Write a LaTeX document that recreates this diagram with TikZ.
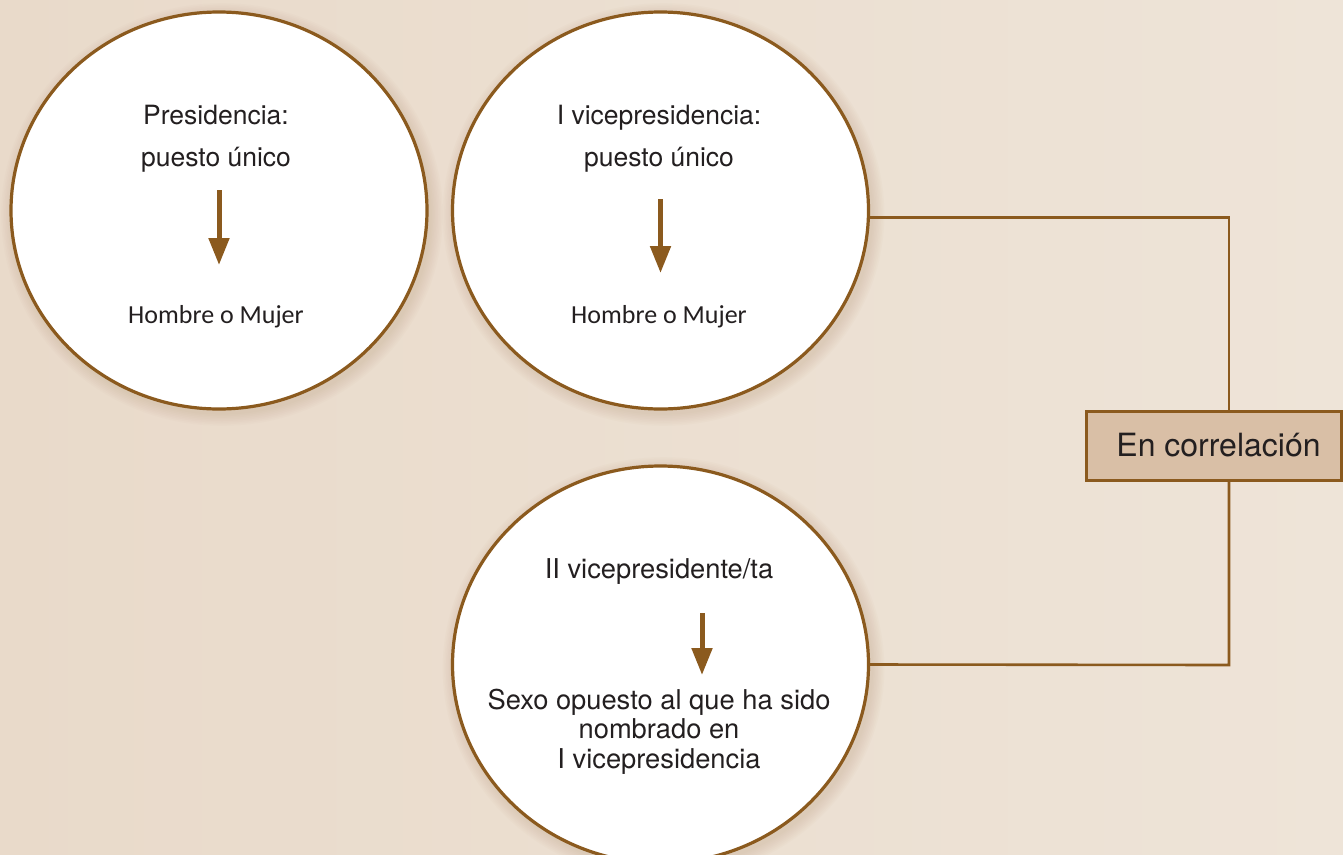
\documentclass[tikz,border=0pt]{standalone}
\usepackage{fontspec}
\setmainfont{TeX Gyre Heros}
\newfontfamily\calib{Carlito}
\usetikzlibrary{shapes.geometric,arrows.meta}
\definecolor{brn}{HTML}{8B5A1E}
\definecolor{boxfill}{HTML}{D9BFA6}
\definecolor{bgl}{HTML}{E9DACA}
\definecolor{bgr}{HTML}{EEE4D8}
\definecolor{ink}{HTML}{231F20}
\definecolor{shad}{HTML}{B89A78}
\begin{document}
\begin{tikzpicture}[x=1pt,y=-1pt,
  circ/.style={ellipse, draw=brn, line width=3.2pt, fill=white, minimum width=416pt, minimum height=397pt, inner sep=0pt},
  lbl/.style={anchor=base, text=ink, font=\fontsize{26.5}{30}\selectfont, inner sep=0pt},
  lblb/.style={anchor=base, text=ink, font=\fontsize{27.3}{30}\selectfont, inner sep=0pt},
  lblc/.style={anchor=base, text=ink, font=\calib\fontsize{26}{30}\selectfont, inner sep=0pt},
  boxst/.style={draw=brn, line width=3pt, fill=boxfill, minimum width=255pt, minimum height=69pt, inner sep=0pt, text=ink, font=\fontsize{32}{36}\selectfont},
  arr/.style={draw=brn, line width=5pt, -{Triangle[width=20pt,length=27pt]}, fill=brn},
  conn/.style={draw=brn, line width=2.6pt},
  ]
\path[use as bounding box] (0,0) rectangle (1343,854);
\clip (0,0) rectangle (1343,854);
\shade[left color=bgl, right color=bgr] (0,0) rectangle (1343,854);

% soft shadows
\foreach \cx/\cy in {219/210.5, 660.5/210.5, 660.5/664.5}{
  \foreach \i in {1,...,8}{
    \fill[shad, opacity=0.035] (\cx+3,\cy+4) ellipse ({208+\i*1.6} and {198.5+\i*1.6});
  }
}

% circles
\node[circ] (c1) at (219,210.5) {};
\node[circ] (c2) at (660.5,210.5) {};
\node[circ] (c3) at (660.5,664.5) {};

% box
\node[boxst] (box) at (1213.5,445.5) {\hspace*{10pt}En correlación};

% texts circle 1
\node[lbl] (t1a) at (216,124) {Presidencia:};
\node[lbl] (t1b) at (216,166) {puesto único};
\node[lblc] (t1c) at (216,323) {Hombre o Mujer};
% texts circle 2
\node[lbl] (t2a) at (659,124) {I vicepresidencia:};
\node[lbl] (t2b) at (659,166) {puesto único};
\node[lblc] (t2c) at (659,323) {Hombre o Mujer};
% texts circle 3
\node[lblb] (t3a) at (659,578) {II vicepresidente/ta};
\node[lblb] (t3b) at (659,709) {Sexo opuesto al que ha sido};
\node[lblb] (t3c) at (659,738) {nombrado en};
\node[lblb] (t3d) at (659,768) {I vicepresidencia};

% arrows
\coordinate (a1s) at (219,190);
\coordinate (a1e) at (219,265);
\coordinate (a2s) at (660.5,199);
\coordinate (a2e) at (660.5,273);
\coordinate (a3s) at (702,613);
\coordinate (a3e) at (702,675);
\draw[arr] (a1s) -- (a1e);
\draw[arr] (a2s) -- (a2e);
\draw[arr] (a3s) -- (a3e);

% connectors
\coordinate (j1) at (1229,217.5);
\coordinate (j2) at (1229,665);
\draw[conn] (c2.east |- j1) -- (j1) -- (j1 |- box.north);
\draw[conn] (j2 |- box.south) -- (j2) -- (c3.east);
\end{tikzpicture}
\end{document}
